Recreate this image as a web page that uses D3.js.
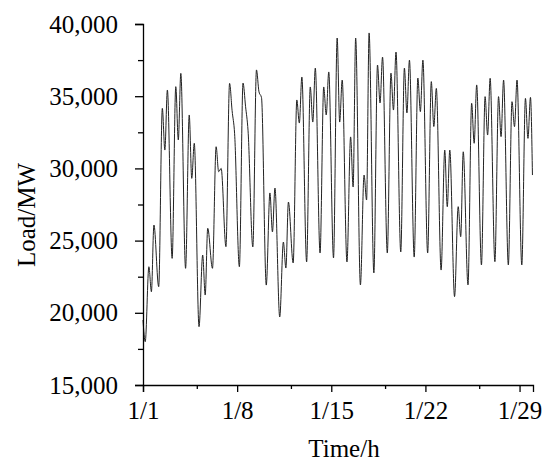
<!DOCTYPE html>
<html>
<head>
<meta charset="utf-8">
<script src="https://cdn.jsdelivr.net/npm/d3@7"></script>
<style>
body { margin: 0; background: #fff; }
svg text { font-family: "Liberation Serif", "Times New Roman", serif; fill: #000; }
</style>
</head>
<body>
<svg></svg>
<script>
//Size of svg
var width = 550;
var height = 468;
var margin = {left: 143, right: 17, top: 24, bottom: 83};

//Days of January (categories)
var days = ["1/1","1/2","1/3","1/4","1/5","1/6","1/7","1/8","1/9","1/10",
            "1/11","1/12","1/13","1/14","1/15","1/16","1/17","1/18","1/19","1/20",
            "1/21","1/22","1/23","1/24","1/25","1/26","1/27","1/28","1/29"];

//Hour of day of each daily feature: night low, morning peak, noon dip, evening peak
var dayHours = [4, 10.5, 15, 19.5];

//Load values (MW)
var nightLow = [18000, 21810, 23770, 23080, 19040, 23080, 24580, 23190, 24560, 21920,
                19710, 23450, 23520, 24140, 23800, 23520, 21930, 22760, 24140, 24210,
                23860, 24140, 22960, 21120, 21930, 23310, 23540, 23310, 23310];
var morningPeak = [23190, 34160, 35660, 33700, 24000, 31500, 35890, 35910, 36820, 28300,
                   24900, 34740, 35640, 35640, 39030, 32180, 29540, 37160, 36600, 36950,
                   36260, 36010, 31270, 27350, 34510, 34970, 34970, 34620, 34850];
var noonDip = [21460, 31270, 31970, 29310, 21230, 29770, 34000, 34300, 35300, 25600,
               23100, 33140, 33210, 33700, 33210, 28710, 27810, 34530, 34040, 33840,
               33930, 32900, 27350, 25270, 31740, 32310, 32200, 32890, 32080];
var eveningPeak = [26080, 35430, 36580, 31740, 25850, 30000, 32400, 32600, 34900, 28640,
                   27670, 36330, 36950, 36680, 36120, 39030, 39380, 37710, 38060, 37500,
                   37500, 35540, 31270, 31150, 35780, 36240, 36120, 36120, 34920];
var startLoad = 19500;   //hour 0 of 1/1
var endLoad = 29540;     //hour 23 of 1/29

//Axis ticks
var xTickHours = [0, 96, 168, 264, 336, 432, 504, 600, 672];
var yTickValues = [15000, 17500, 20000, 22500, 25000, 27500, 30000, 32500, 35000, 37500, 40000];

var svg = d3.select('svg')
            .attr('width', width)
            .attr('height', height);

//Build hourly series points
var points = [{h: 0, v: startLoad}];
days.forEach(function(d, i) {
  [nightLow[i], morningPeak[i], noonDip[i], eveningPeak[i]].forEach(function(v, k) {
    points.push({h: i * 24 + dayHours[k], v: v});
  });
});
points.push({h: (days.length - 1) * 24 + 23, v: endLoad});

//Scales
var x = d3.scaleLinear()
          .domain([0, days.length * 24])
          .range([margin.left, width - margin.right]);
var y = d3.scaleLinear()
          .domain([15000, 40000])
          .range([height - margin.bottom, margin.top]);

//Line
var line = d3.line()
             .x(d => x(d.h))
             .y(d => y(d.v))
             .curve(d3.curveMonotoneX);

svg.append('path')
   .datum(points)
   .attr('d', line)
   .attr('fill', 'none')
   .attr('stroke', '#222')
   .attr('stroke-width', 1);

//Y axis
var yAxis = svg.append('g')
   .attr('transform', 'translate(' + margin.left + ',0)')
   .call(d3.axisLeft(y)
           .tickValues(yTickValues)
           .tickSizeOuter(0)
           .tickSize(8)
           .tickPadding(17)
           .tickFormat(d => d % 5000 === 0 ? d3.format(',')(d) : ''));
yAxis.selectAll('.tick').filter(d => d % 5000 !== 0).select('line').attr('x2', -5);
yAxis.selectAll('text').style('font-size', '25px');

//X axis
var xAxis = svg.append('g')
   .attr('transform', 'translate(0,' + (height - margin.bottom) + ')')
   .call(d3.axisBottom(x)
           .tickValues(xTickHours)
           .tickSizeOuter(0)
           .tickSize(7)
           .tickPadding(9)
           .tickFormat(d => d % 168 === 0 ? days[d / 24] : ''));
xAxis.selectAll('.tick').filter(d => d % 168 !== 0).select('line').attr('y2', 4);
xAxis.selectAll('text').style('font-size', '25px');

svg.selectAll('.domain, .tick line').attr('stroke', '#000').attr('stroke-width', 1.3);

//Axis titles
svg.append('text')
   .attr('x', 344)
   .attr('y', 457)
   .attr('text-anchor', 'middle')
   .style('font-size', '25px')
   .text('Time/h');

svg.append('text')
   .attr('transform', 'translate(35,215) rotate(-90)')
   .attr('text-anchor', 'middle')
   .style('font-size', '25px')
   .text('Load/MW');
</script>
</body>
</html>
